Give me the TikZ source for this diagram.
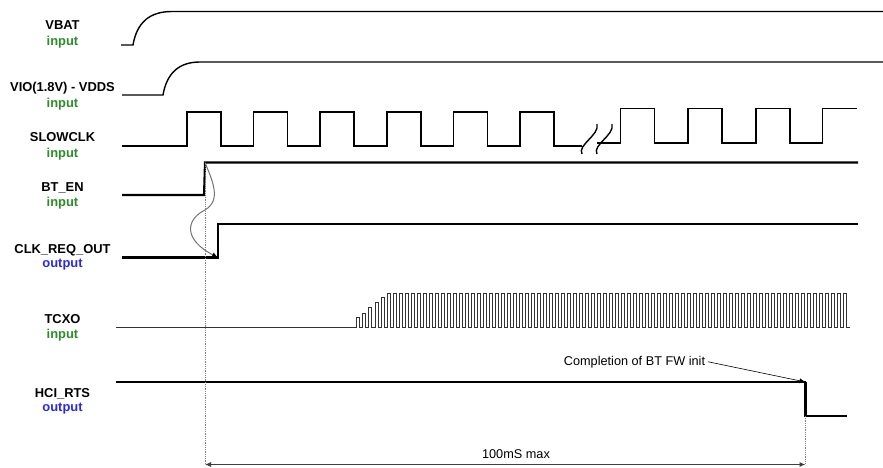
\documentclass[tikz,border=0pt]{standalone}
\usepackage{fontspec}
\setmainfont{Liberation Sans}
\usepackage{xcolor}
\usetikzlibrary{positioning, arrows.meta}
\definecolor{ingreen}{RGB}{45,140,40}
\definecolor{outblue}{RGB}{40,40,235}

\begin{document}
\begin{tikzpicture}[x=1pt, y=-1pt,
    signame/.style={font=\fontsize{12.9}{14}\selectfont\bfseries, inner sep=0pt, anchor=base},
    dirin/.style={signame, text=ingreen, anchor=north},
    dirout/.style={signame, text=outblue, anchor=north},
    wave/.style={line width=1.4pt, line join=miter},
    thickwave/.style={line width=2.1pt, line join=miter},
    clkline/.style={line width=0.9pt, black!80},
    guide/.style={densely dotted, gray, line width=0.8pt},
    note/.style={font=\fontsize{12.7}{14}\selectfont, inner sep=2.5pt, anchor=base},
    arrow/.style={-{Latex[length=6pt, width=5pt]}, line width=0.6pt}
]
    \useasboundingbox (0,0) rectangle (883,468);

    % Signal names
    \node[signame] (vbat) at (62.5,30) {VBAT};
    \node[dirin, below=6pt of vbat.base] (vbatdir) {input};
    \node[signame] (vio) at (62.5,92) {VIO(1.8V) - VDDS};
    \node[dirin, below=6pt of vio.base] (viodir) {input};
    \node[signame] (slowclk) at (62.5,142) {SLOWCLK};
    \node[dirin, below=6pt of slowclk.base] (slowclkdir) {input};
    \node[signame] (bten) at (62.5,191) {BT\_EN};
    \node[dirin, below=6pt of bten.base] (btendir) {input};
    \node[signame] (clkreq) at (62.5,253) {CLK\_REQ\_OUT};
    \node[dirout, below=6pt of clkreq.base] (clkreqdir) {output};
    \node[signame] (tcxo) at (62.5,323) {TCXO};
    \node[dirin, below=6pt of tcxo.base] (tcxodir) {input};
    \node[signame] (hcirts) at (62.5,397) {HCI\_RTS};
    \node[dirout, below=6pt of hcirts.base] (hcirtsdir) {output};

    % VBAT
    \draw[wave] (121,45) -- (133,45) .. controls (137,22) and (150,11.5) .. (172,11.5) -- (883,11.5);

    % VIO
    \draw[wave] (122,95) -- (163,95) .. controls (167,72) and (180,62) .. (200,62) -- (883,62);

    % SLOWCLK
    \draw[wave] (122,146) foreach \t in {187,253.5,320,387,453.5,520} {
        -- (\t,146) -- (\t,112) -- (\t+34,112) -- (\t+34,146)} -- (582,146);
    \draw[wave] (582,154) .. controls (577,145) and (600,135) .. (597,124);
    \draw[wave] (597,154) .. controls (592,145) and (615,135) .. (612,124);
    \draw[wave] (597,143) foreach \t in {620.5,688,756} {
        -- (\t,143) -- (\t,108.5) -- (\t+34,108.5) -- (\t+34,143)}
        -- (822.5,143) -- (822.5,108.5) -- (857,108.5);

    % BT_EN
    \coordinate (btrise) at (205,162.5);
    \draw[thickwave] (122,195) -- (204,195) -- (btrise) -- (858,162.5);

    % CLK_REQ_OUT
    \coordinate (clkrise) at (218,257.5);
    \draw[thickwave] (122,257.5) -- (clkrise) -- (218,224) -- (858,224);

    % BT_EN -> CLK_REQ_OUT
    \draw[black!55, line width=1pt, -{Latex[black, length=6pt, width=5pt]}] (btrise)
        .. controls (212,180) and (222,200) .. (205,210)
        .. controls (185,220) and (184,240) .. (clkrise);

    % TCXO
    \draw[clkline] (116,327) -- (356,327)
        foreach \x/\h in {356/317,362/313,368/307,375/302,381/297} {
        -- (\x,327) -- (\x,\h) -- (\x+3,\h) -- (\x+3,327)}
        foreach \k in {0,...,76} {
        -- (387+6*\k,327) -- (387+6*\k,293) -- (390+6*\k,293) -- (390+6*\k,327)}
        -- (850,327);

    % HCI_RTS
    \coordinate (rtsfall) at (805.5,382);
    \draw[wave] (116,382) -- (rtsfall);
    \draw[thickwave] (rtsfall) -- (805.5,416) -- (847,416);

    % Completion note
    \node[note] (fwinit) at (634.5,365) {Completion of BT FW init};
    \draw[arrow] (fwinit.east) -- (rtsfall);

    % 100mS max
    \coordinate (dimL) at (205,464.5);
    \coordinate (dimR) at (805.5,464.5);
    \draw[guide] (btrise) -- (dimL);
    \draw[guide] (805.5,416) -- (dimR);
    \draw[{Latex[length=6pt, width=5pt]}-{Latex[length=6pt, width=5pt]}, line width=1pt, black!75] (dimL) -- (dimR);
    \node[note] (dimtext) at (516,458) {100mS max};
\end{tikzpicture}
\end{document}
